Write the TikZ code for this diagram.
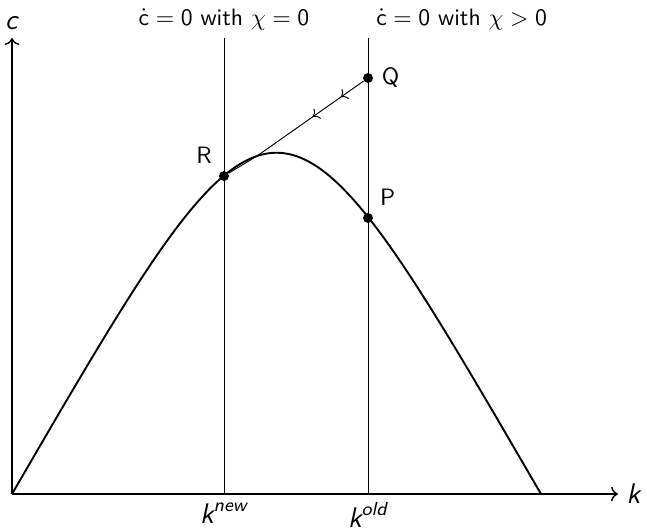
\documentclass[tikz,border=0pt]{standalone}
\usepackage{amsmath,amssymb}
\usepackage{tikz}
\usetikzlibrary{arrows.meta, positioning, calc, decorations.markings}

\tikzset{
  axisline/.style={semithick},
  locus/.style={thin},
  biglabel/.style={font=\sffamily\large},
  dotnode/.style={circle, fill=black, inner sep=0pt, minimum size=4.2pt,
    every label/.style={biglabel}},
  midarrows/.style={thin, postaction={decorate},
    decoration={markings,
      mark=at position 0.17 with {\arrow{>}},
      mark=at position 0.38 with {\arrow{>}}}}
}

\begin{document}
\begin{tikzpicture}[x=0.01484cm, y=-0.01484cm, font=\sffamily]
\useasboundingbox (0,0) rectangle (647,532);

% ---- axes ----
\coordinate (O) at (12,494);
\draw[axisline, ->] (O) -- (618,494) node[right, biglabel] (klab) {\textit{k}};
\draw[axisline, ->] (O) -- (12,38) node[above, biglabel] (clab) {\textit{c}};

% ---- cdot = 0 loci ----
\draw[locus] (224,494) -- (224,38)
  node[above] (locnew) {$\dot{\mathsf{c}}=\mathsf{0}$ with $\chi=\mathsf{0}$};
\draw[locus] (368,494) -- (368,38)
  node[above right] (locold) {$\dot{\mathsf{c}}=\mathsf{0}$ with $\chi>\mathsf{0}$};
\node[below, biglabel] (knew) at (224,494) {$\textit{k}^{\textit{new}}$};
\node[below, biglabel] (kold) at (368,494) {$\textit{k}^{\textit{old}}$};

% ---- k dot = 0 curve ----
\draw[thick] (O) .. controls (276.5,39) and (276.5,39) .. (541,494);

% ---- points ----
\node[dotnode, label=above left:R] (R) at (224,176) {};
\node[dotnode, label=right:Q] (Q) at (368,78) {};
\node[dotnode, label=above right:P] (P) at (368,218) {};

% saddle path from Q to R
\coordinate (T) at (257,156);
\draw[midarrows] (Q) -- (T) -- (R);
\end{tikzpicture}
\end{document}
